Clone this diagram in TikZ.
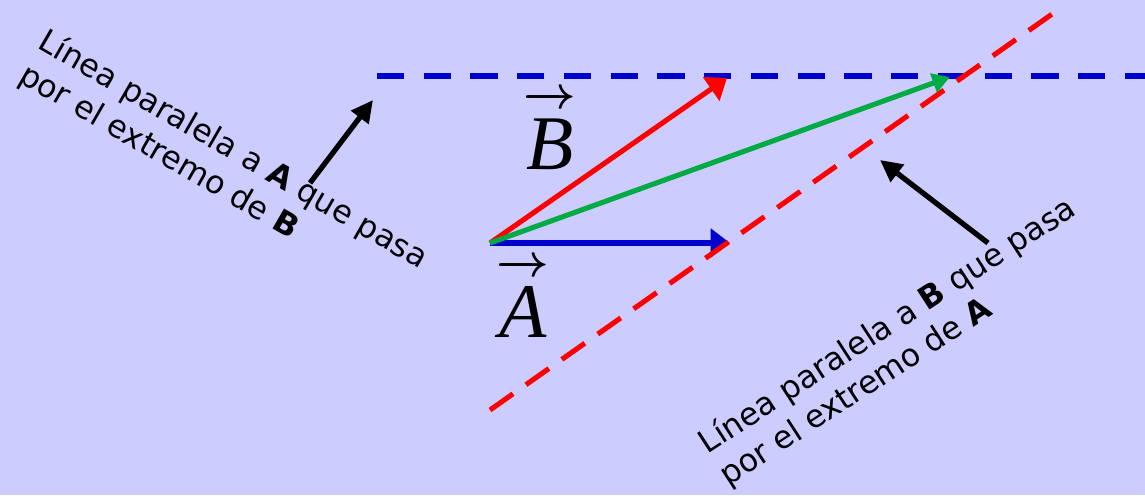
\documentclass[tikz,border=0pt]{standalone}
\usepackage{fix-cm}
\usepackage{fontspec}
\setmainfont{DejaVu Sans}
\newfontfamily\vecfont{Liberation Serif}
\usetikzlibrary{arrows.meta,positioning}
\definecolor{fondo}{RGB}{204,204,255}
\definecolor{vecazul}{RGB}{0,0,204}
\definecolor{vecrojo}{RGB}{255,0,0}
\definecolor{vecverde}{RGB}{0,170,68}
\newcommand{\vecsym}[1]{{\fontsize{26}{30}\selectfont\boldmath$\overrightarrow{\hbox{\fontsize{44}{50}\selectfont\vecfont\itshape #1\rule{0pt}{0.8em}}}$}}

\begin{document}
\begin{tikzpicture}[x=0.2mm, y=-0.2mm,
    vector/.style={line width=2.9pt, -{Triangle[length=11pt,width=16pt]}},
    paralela/.style={line width=3.4pt, dash pattern=on 15.4pt off 11.2pt},
    senal/.style={line width=3pt, -{Triangle[length=12.5pt,width=12pt]}},
    nota/.style={font=\fontsize{18}{22}\selectfont, align=left, anchor=base west, inner sep=0pt},
    etiqueta/.style={anchor=base, inner sep=0pt}]
    % Fondo
    \useasboundingbox (0,0) rectangle (1145,495);
    \fill[fondo] (0,0) rectangle (1145,495);

    % Puntos de los vectores
    \coordinate (O) at (490,243);
    \coordinate (Apunta) at (730,243);
    \coordinate (Bpunta) at (727,78);
    \coordinate (Suma) at (950,77);

    % Lineas paralelas
    \coordinate (pazul0) at (377,76);
    \coordinate (pazul1) at (1145,76);
    \coordinate (projo0) at (490,410);
    \coordinate (projo1) at (1055,12);
    \draw[paralela, vecazul] (pazul0) -- (pazul1);
    \draw[vector, vecazul, line width=3.6pt] (O) -- (Apunta);
    \draw[paralela, vecrojo, dash pattern=on 16pt off 9pt, line width=2.9pt] (projo0) -- (projo1);
    \draw[vector, vecrojo] (O) -- (Bpunta);
    \draw[vector, vecverde, -{Triangle[length=10pt,width=11pt]}] (O) -- (Suma);

    % Etiquetas
    \node[etiqueta] (labB) at (550,169) {\vecsym{B}};
    \node[etiqueta] (labA) at (523,337) {\vecsym{A}};

    % Notas (ancla en la segunda linea)
    \node[nota, rotate=-30] (notaA) at (17,81) {Línea paralela a \textbf{A} que pasa\\por el extremo de \textbf{B}};
    \node[nota, rotate=33] (notaB) at (728,487) {Línea paralela a \textbf{B} que pasa\\por el extremo de \textbf{A}};

    % Flechas
    \coordinate (flechaA0) at (310,183);
    \coordinate (flechaA1) at (373,100);
    \coordinate (flechaB0) at (988,243);
    \coordinate (flechaB1) at (880,160);
    \draw[senal] (flechaA0) -- (flechaA1);
    \draw[senal] (flechaB0) -- (flechaB1);
\end{tikzpicture}
\end{document}
